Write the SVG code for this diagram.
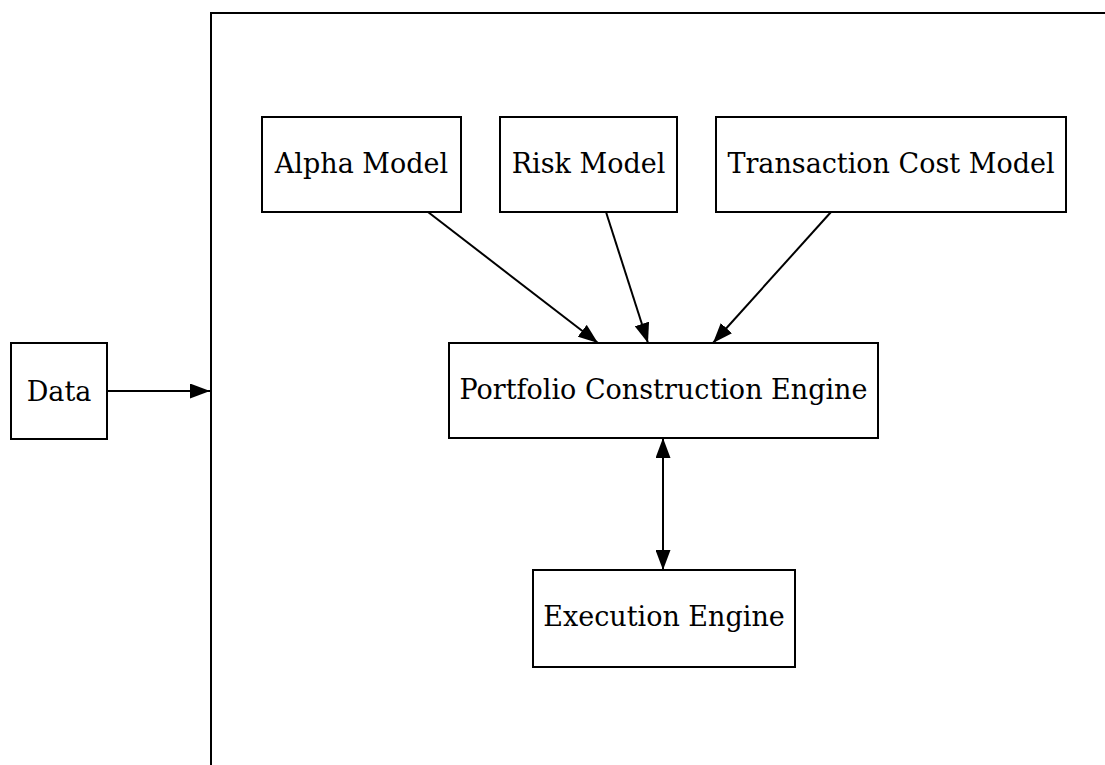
<svg xmlns="http://www.w3.org/2000/svg" width="1105" height="765" viewBox="0 0 1105 765">
<defs>
<style>
.box{fill:#fff;stroke:#000;stroke-width:2}
.lbl{font-family:"DejaVu Serif",serif;font-size:27px;text-anchor:middle;fill:#000}
.edge{stroke:#000;stroke-width:2;fill:none}
</style>
<marker id="ah" viewBox="0 0 20 15" refX="20" refY="7.5" markerWidth="20" markerHeight="15" markerUnits="userSpaceOnUse" orient="auto-start-reverse">
<path d="M0,0 L20,7.5 L0,15 Z" fill="#000"/>
</marker>
</defs>
<rect width="1105" height="765" fill="#fff"/>
<g id="cluster">
<rect x="211" y="13" width="920" height="790" fill="none" stroke="#000" stroke-width="2"/>
</g>
<g id="data"><rect class="box" x="11" y="343" width="96" height="96"/><text class="lbl" x="59" y="401">Data</text></g>
<g id="alpha"><rect class="box" x="262" y="117" width="199" height="95"/><text class="lbl" x="361.5" y="173">Alpha Model</text></g>
<g id="risk"><rect class="box" x="500" y="117" width="177" height="95"/><text class="lbl" x="588.5" y="173">Risk Model</text></g>
<g id="tcm"><rect class="box" x="716" y="117" width="350" height="95"/><text class="lbl" x="891" y="173">Transaction Cost Model</text></g>
<g id="pce"><rect class="box" x="449" y="343" width="429" height="95"/><text class="lbl" x="663.5" y="399">Portfolio Construction Engine</text></g>
<g id="exec"><rect class="box" x="533" y="570" width="262" height="97"/><text class="lbl" x="664" y="626">Execution Engine</text></g>
<g id="edges">
<line class="edge" x1="107" y1="391" x2="210" y2="391" marker-end="url(#ah)"/>
<line class="edge" x1="428" y1="212" x2="598" y2="343" marker-end="url(#ah)"/>
<line class="edge" x1="606" y1="212" x2="648" y2="343" marker-end="url(#ah)"/>
<line class="edge" x1="831" y1="212" x2="713" y2="343" marker-end="url(#ah)"/>
<line class="edge" x1="663" y1="438" x2="663" y2="570" marker-start="url(#ah)" marker-end="url(#ah)"/>
</g>
</svg>
